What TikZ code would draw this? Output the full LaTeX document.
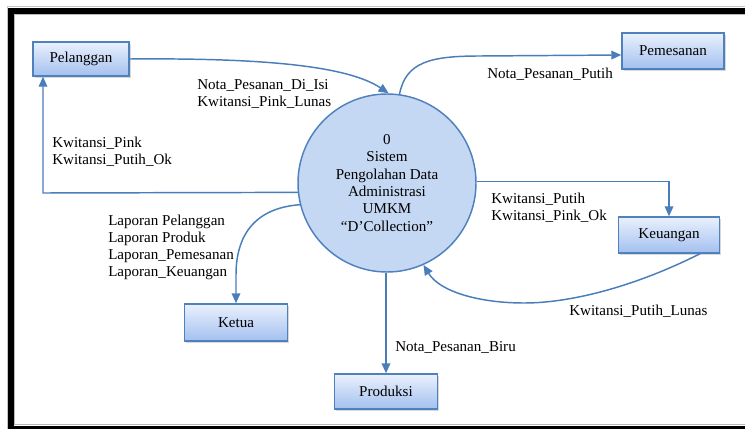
\documentclass[tikz,border=0pt]{standalone}
\usepackage{fontspec}
\setmainfont{Liberation Serif}
\usetikzlibrary{arrows.meta,shadows,calc}
\definecolor{bord}{HTML}{4F81BD}
\definecolor{flowc}{HTML}{4A7EBB}
\definecolor{boxtop}{HTML}{EAF1FD}
\definecolor{boxbot}{HTML}{A3C0EF}
\definecolor{circfill}{HTML}{C4D8F3}
\begin{document}
\begin{tikzpicture}[x=0.75pt,y=-0.75pt,
  lbl/.style={font=\fontsize{11.3pt}{12.75pt}\selectfont},
  entity/.style={draw=bord, line width=1.1pt, top color=boxtop, bottom color=boxbot,
    inner sep=0pt, drop shadow={opacity=0.3,shadow xshift=1.2pt,shadow yshift=-1.6pt},
    lbl},
  flowtext/.style={lbl, inner sep=0pt, align=left},
  flow/.style={draw=flowc, line width=1.1pt, -{Triangle[length=7.5pt,width=6.5pt]}},
  flowline/.style={draw=flowc, line width=1.1pt}]
\useasboundingbox (0,0) rectangle (745,428);
\fill[white] (0,0) rectangle (745,428);
\begin{scope}
\clip (0,0) rectangle (745,428);
\draw[gray!45, line width=0.75pt] (7,7) rectangle (770,440);
\draw[black, line width=4.5pt] (11,11) rectangle (765,429);
\draw[gray!55, line width=0.75pt] (14.5,14.5) rectangle (760,424.5);
\end{scope}

% entities
\node[entity, minimum width=96*0.75pt, minimum height=34*0.75pt] (pel) at (81,59) {Pelanggan};
\node[entity, minimum width=102*0.75pt, minimum height=36*0.75pt] (pem) at (673,51) {Pemesanan};
\node[entity, minimum width=101*0.75pt, minimum height=36*0.75pt] (keu) at (669,235) {Keuangan};
\node[entity, minimum width=103*0.75pt, minimum height=37*0.75pt] (ket) at (236,322.5) {Ketua};
\node[entity, minimum width=103*0.75pt, minimum height=35*0.75pt] (pro) at (386,391.5) {Produksi};

% process
\node[circle, draw=bord, line width=1.1pt, fill=circfill, minimum size=178*0.75pt,
  inner sep=0pt, align=center, font=\fontsize{11.3pt}{13pt}\selectfont] (circ) at (387,183)
  {0\\Sistem\\Pengolahan Data\\Administrasi\\UMKM\\“D’Collection”};

% connectors
\draw[flow] (pel.east) .. controls (250,58) and (345,64) .. (circ.89);
\coordinate (pemin) at ($(pem.west)+(0,4)$);
\draw[flow] (circ.82) .. controls (406,62) and (430,56) .. (480,56) -- (pemin);
\coordinate (p3) at (43,193);
\draw[flow] (circ.186) -- (p3) -- (p3 |- pel.south);
\draw[flow] (circ.194) .. controls (255,208) and (236,235) .. (236,275) -- (ket.north);
\draw[flow] (pro.north |- circ.south) -- (pro.north);
\draw[flow] (circ.1) -| (keu.north);
\coordinate (k7) at ($(keu.south)+(31,0)$);
\draw[flow] (k7) .. controls (640,284) and (575,303) .. (524,303)
  .. controls (480,303) and (440,292) .. (circ.294);

% labels
\node[flowtext, anchor=west] (t1) at (197,93.5) {Nota\_Pesanan\_Di\_Isi\\Kwitansi\_Pink\_Lunas};
\node[flowtext, anchor=west] (t2) at (487,74) {Nota\_Pesanan\_Putih};
\node[flowtext, anchor=west] (t3) at (52,151.5) {Kwitansi\_Pink\\Kwitansi\_Putih\_Ok};
\node[flowtext, anchor=west] (t4) at (108,247.5) {Laporan Pelanggan\\Laporan Produk\\Laporan\_Pemesanan\\Laporan\_Keuangan};
\node[flowtext, anchor=west] (t5) at (395,347) {Nota\_Pesanan\_Biru};
\node[flowtext, anchor=west] (t6) at (491,207.5) {Kwitansi\_Putih\\Kwitansi\_Pink\_Ok};
\node[flowtext, anchor=west] (t7) at (569,311) {Kwitansi\_Putih\_Lunas};
\end{tikzpicture}
\end{document}
